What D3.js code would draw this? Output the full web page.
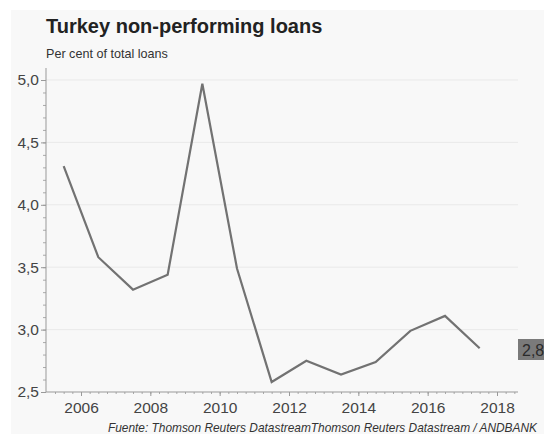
<!DOCTYPE html>
<html>
<head>
<meta charset="utf-8">
<script src="https://cdn.jsdelivr.net/npm/d3@7"></script>
<style>
  html, body { margin: 0; padding: 0; background: #ffffff; }
  svg { display: block; font-family: "Liberation Sans", Arial, sans-serif; }
</style>
</head>
<body>
<svg id="chart" width="544" height="434"></svg>
<script>
// ---- data ----
const years = [2005, 2006, 2007, 2008, 2009, 2010, 2011, 2012, 2013, 2014, 2015, 2016, 2017];
const npl   = [4.31, 3.58, 3.32, 3.44, 4.97, 3.49, 2.58, 2.75, 2.64, 2.74, 2.99, 3.11, 2.85];
const yTicks = [2.5, 3.0, 3.5, 4.0, 4.5, 5.0];
const xTicks = [2006, 2008, 2010, 2012, 2014, 2016, 2018];
const lastLabel = "2,8";
const title = "Turkey non-performing loans";
const subtitle = "Per cent of total loans";
const source = "Fuente: Thomson Reuters DatastreamThomson Reuters Datastream / ANDBANK";

const svg = d3.select("#chart");
const W = 544, H = 434;

// panel background
svg.append("rect").attr("x", 11).attr("y", 10).attr("width", W - 11).attr("height", H - 10)
  .attr("fill", "#f8f8f8");

const x = d3.scaleLinear().domain([2006, 2018]).range([81, 497]);
const y = d3.scaleLinear().domain([2.5, 5.0]).range([392, 80]);
const left = 46, right = 518, bottom = 392;

// gridlines
svg.append("g").selectAll("line").data(yTicks.filter(d => d > 2.5)).join("line")
  .attr("x1", left).attr("x2", right)
  .attr("y1", d => y(d)).attr("y2", d => y(d))
  .attr("stroke", "#e9e9e9").attr("stroke-width", 1);

// y axis
const yMinor = d3.range(25, 51).map(d => d / 10);
const yAxis = svg.append("g").attr("transform", `translate(${left},0)`)
  .call(d3.axisLeft(y).tickValues(yMinor).tickSize(3).tickFormat(""));
yAxis.select(".domain").remove();
yAxis.selectAll("line").attr("stroke", "#aaa");
svg.append("line").attr("x1", left).attr("x2", left).attr("y1", 68).attr("y2", bottom)
  .attr("stroke", "#999");
const yMajor = svg.append("g").attr("transform", `translate(${left},0)`)
  .call(d3.axisLeft(y).tickValues(yTicks).tickSize(5)
    .tickFormat(d => d3.format(".1f")(d).replace(".", ",")));
yMajor.select(".domain").remove();
yMajor.selectAll("line").attr("stroke", "#999");
yMajor.selectAll("text").attr("fill", "#444").attr("font-size", 15.5)
  .attr("x", -7).style("font-family", "'Liberation Sans', Arial, sans-serif");

// x axis
const xMinor = d3.range(2005 * 4 + 1, 2018 * 4 + 3).map(d => d / 4);
const xAxisMinor = svg.append("g").attr("transform", `translate(0,${bottom})`)
  .call(d3.axisBottom(x).tickValues(xMinor).tickSize(2).tickFormat(""));
xAxisMinor.select(".domain").remove();
xAxisMinor.selectAll("line").attr("stroke", "#aaa");
svg.append("line").attr("x1", left).attr("x2", right).attr("y1", bottom).attr("y2", bottom)
  .attr("stroke", "#999");
const xAxis = svg.append("g").attr("transform", `translate(0,${bottom})`)
  .call(d3.axisBottom(x).tickValues(xTicks).tickSize(4).tickFormat(d3.format("d")));
xAxis.select(".domain").remove();
xAxis.selectAll("line").attr("stroke", "#999");
xAxis.selectAll("text").attr("fill", "#444").attr("font-size", 15.5).attr("y", 10)
  .style("font-family", "'Liberation Sans', Arial, sans-serif");

// line
const line = d3.line().x((d, i) => x(years[i] + 0.5)).y(d => y(d));
svg.append("path").datum(npl).attr("d", line)
  .attr("fill", "none").attr("stroke", "#727272").attr("stroke-width", 2.2)
  .attr("stroke-linejoin", "miter");

// last value label
svg.append("rect").attr("x", 518).attr("y", 339).attr("width", 30).attr("height", 21)
  .attr("fill", "#7a7a7a");
svg.append("text").attr("x", 522).attr("y", 356).attr("font-size", 16)
  .attr("fill", "#2a2a2a").text(lastLabel);

// titles
svg.append("text").attr("x", 46).attr("y", 33).attr("font-size", 20).attr("font-weight", "bold")
  .attr("fill", "#222").text(title);
svg.append("text").attr("x", 46).attr("y", 58).attr("font-size", 12.6)
  .attr("fill", "#333").text(subtitle);

// source
svg.append("text").attr("x", 537).attr("y", 432).attr("text-anchor", "end")
  .attr("font-size", 11.9).attr("font-style", "italic").attr("fill", "#333").text(source);
</script>
</body>
</html>
